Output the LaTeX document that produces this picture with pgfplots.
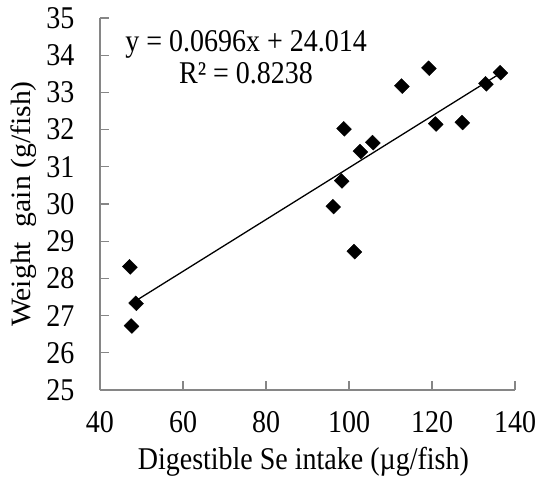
\documentclass[border=0pt]{standalone}
\usepackage{pgfplots}
\pgfplotsset{compat=1.18}
\usepackage{fontspec}
\setmainfont{Liberation Serif}
\definecolor{axgray}{RGB}{134,134,134}
\newcommand{\vs}[1]{\scalebox{1}[1.13]{#1}}
\begin{document}
\fontsize{28bp}{34bp}\selectfont
\begin{tikzpicture}
\useasboundingbox (-100bp,-91bp) rectangle (441bp,390bp);
\begin{axis}[
  at={(0,0)}, anchor=south west,
  scale only axis,
  width=415bp, height=372bp,
  xmin=40, xmax=140, ymin=25, ymax=35,
  xtick={40,60,80,100,120,140},
  ytick={25,26,27,28,29,30,31,32,33,34,35},
  axis x line*=bottom, axis y line*=left,
  axis line style={axgray, line width=1.2bp},
  every tick/.style={axgray, line width=1.2bp},
  tick align=inside,
  major tick length=9bp,
  /pgf/number format/assume math mode=true,
  xticklabel={\vs{\pgfmathprintnumber{\tick}}},
  yticklabel={\vs{\pgfmathprintnumber{\tick}}},
  tick label style={font=\fontsize{28bp}{34bp}\selectfont, text=black},
  yticklabel style={xshift=-16bp},
  xticklabel style={yshift=-12bp},
  xlabel={\vs{Digestible Se intake (µg/fish)}},
  ylabel={\scalebox{1.06}[1]{Weight\ \ gain (g/fish)}},
  label style={font=\fontsize{28bp}{34bp}\selectfont},
  xlabel style={at={(axis description cs:0.49,-0.2124)}, anchor=base},
  ylabel style={at={(axis description cs:-0.183,0.5)}, anchor=center},
  clip=false,
]
\addplot[only marks, mark=square*, mark size=5bp, mark options={rotate=45, yscale=1.1, fill=black, draw=black}] coordinates {
(47.2,28.31) (48.7,27.33) (47.6,26.72) (96.2,29.93) (98.25,30.62)
(98.8,32.02) (101.3,28.72) (102.75,31.41) (105.75,31.65) (112.75,33.17)
(119.25,33.65) (120.9,32.15) (127.3,32.19) (133.0,33.23) (136.5,33.53)
};
\addplot[black, line width=1.3bp] coordinates {(47.2,27.299) (136.5,33.514)};
\node[align=center, font=\fontsize{28bp}{32bp}\selectfont] at (axis cs:75.2,33.95) {\vs{y = 0.0696x + 24.014}\\\vs{R² = 0.8238}};
\end{axis}
\end{tikzpicture}
\end{document}
